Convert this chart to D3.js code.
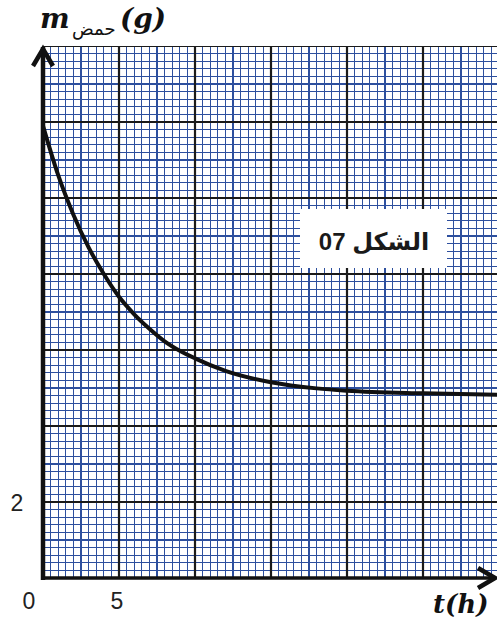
<!DOCTYPE html>
<html>
<head>
<meta charset="utf-8">
<script src="https://cdn.jsdelivr.net/npm/d3@7/dist/d3.min.js"></script>
<style>
  html, body { margin: 0; padding: 0; background: #fff; }
  svg { display: block; }
</style>
</head>
<body>
<script>
// Mass of acid vs time (hours)
const timeH = [0, 1, 2, 3, 4, 5, 6, 7, 8, 9, 10, 12, 15, 18, 20, 25, 30];
const massG = [11.9, 10.6, 9.56, 8.7, 8.0, 7.4, 6.94, 6.56, 6.23, 5.98, 5.78, 5.45, 5.15, 4.99, 4.93, 4.86, 4.82];

const xTickLabels = [0, 5];
const yTickLabels = [2];

const W = 497, H = 620;
const svg = d3.select("body").append("svg").attr("width", W).attr("height", H);

const x = d3.scaleLinear().domain([0, 30]).range([43, 499]);
const y = d3.scaleLinear().domain([0, 14]).range([578, 46]);

const gridColor = "#2d4f9e";
svg.append("defs").append("clipPath").attr("id", "plotClip")
  .append("rect").attr("x", 43).attr("y", 46).attr("width", W - 43).attr("height", 532);

const grid = svg.append("g").attr("clip-path", "url(#plotClip)");

// minor grid: 0.5 h and 0.2 g
const minorX = d3.range(0, 30.001, 0.5);
const minorY = d3.range(0, 14.001, 0.2);
const minor = grid.append("g").attr("shape-rendering", "crispEdges");
minor.selectAll(".mx").data(minorX).join("line")
  .attr("x1", d => x(d)).attr("x2", d => x(d))
  .attr("y1", y(14)).attr("y2", y(0))
  .attr("stroke", gridColor).attr("stroke-width", 1.2);
minor.selectAll(".my").data(minorY).join("line")
  .attr("y1", d => y(d)).attr("y2", d => y(d))
  .attr("x1", x(0)).attr("x2", W)
  .attr("stroke", gridColor).attr("stroke-width", 1.2);

// major grid: 5 h and 2 g
const majorX = d3.range(0, 30.001, 5);
const majorY = d3.range(0, 14.001, 2);
grid.selectAll(".Mx").data(majorX).join("line")
  .attr("x1", d => x(d)).attr("x2", d => x(d))
  .attr("y1", y(14)).attr("y2", y(0))
  .attr("stroke", "#1a1a1a").attr("stroke-width", 2.2);
grid.selectAll(".My").data(majorY).join("line")
  .attr("y1", d => y(d)).attr("y2", d => y(d))
  .attr("x1", x(0)).attr("x2", W)
  .attr("stroke", "#1a1a1a").attr("stroke-width", 2.2);

// decay curve
const line = d3.line().x((d, i) => x(timeH[i])).y(d => y(d)).curve(d3.curveMonotoneX);
svg.append("path").datum(massG)
  .attr("d", line)
  .attr("fill", "none").attr("stroke", "#111").attr("stroke-width", 4)
  .attr("stroke-linecap", "round");

// axes
svg.append("line").attr("x1", x(0)).attr("x2", x(0)).attr("y1", y(0) + 2).attr("y2", y(14) + 1)
  .attr("stroke", "#111").attr("stroke-width", 4.5);
svg.append("line").attr("x1", x(0) - 2).attr("x2", W - 2).attr("y1", y(0)).attr("y2", y(0))
  .attr("stroke", "#111").attr("stroke-width", 3.5);

// arrowheads
svg.append("polyline")
  .attr("points", [[x(0) - 10, y(14) + 20], [x(0), y(14) + 3], [x(0) + 10, y(14) + 20]].join(" "))
  .attr("fill", "none").attr("stroke", "#111").attr("stroke-width", 4.5);
svg.append("polyline")
  .attr("points", [[W - 19, y(0) - 10], [W - 2, y(0)], [W - 19, y(0) + 10]].join(" "))
  .attr("fill", "none").attr("stroke", "#111").attr("stroke-width", 4.5);

// tick labels
const numFont = "'Liberation Sans', Arial, sans-serif";
svg.selectAll(".xl").data(xTickLabels).join("text")
  .attr("x", d => d === 0 ? x(d) - 14 : x(d) - 2).attr("y", 609)
  .attr("text-anchor", "middle").attr("font-family", numFont).attr("font-size", 23)
  .attr("fill", "#222").text(d => d);
svg.selectAll(".yl").data(yTickLabels).join("text")
  .attr("x", 17).attr("y", y(2) + 9)
  .attr("text-anchor", "middle").attr("font-family", numFont).attr("font-size", 23)
  .attr("fill", "#222").text(d => d);

// axis titles
const mathFont = "'DejaVu Serif', 'Liberation Serif', serif";
svg.append("text").attr("x", 433).attr("y", 613)
  .attr("font-family", mathFont).attr("font-size", 26).attr("font-weight", "bold")
  .attr("font-style", "italic").attr("fill", "#111").text("t(h)");

const yt = svg.append("text").attr("y", 28).attr("font-family", mathFont)
  .attr("font-weight", "bold").attr("fill", "#111");
yt.append("tspan").attr("x", 40).attr("font-size", 28).attr("font-style", "italic").text("m");
yt.append("tspan").attr("x", 72).attr("dy", 7).attr("font-size", 18).attr("font-weight", "normal")
  .attr("font-family", "'DejaVu Sans', sans-serif").text("حمض");
yt.append("tspan").attr("x", 120).attr("dy", -7).attr("font-size", 28).attr("font-style", "italic").text("(g)");

// figure label
svg.append("rect").attr("x", 300).attr("y", 209).attr("width", 147).attr("height", 59).attr("fill", "#fff");
svg.append("text").attr("x", 374).attr("y", 250)
  .attr("text-anchor", "middle").attr("direction", "rtl")
  .attr("font-family", "'Liberation Sans', 'DejaVu Sans', sans-serif")
  .attr("font-weight", "bold").attr("font-size", 24).attr("fill", "#1a1a1a")
  .text("الشكل 07");
</script>
</body>
</html>
